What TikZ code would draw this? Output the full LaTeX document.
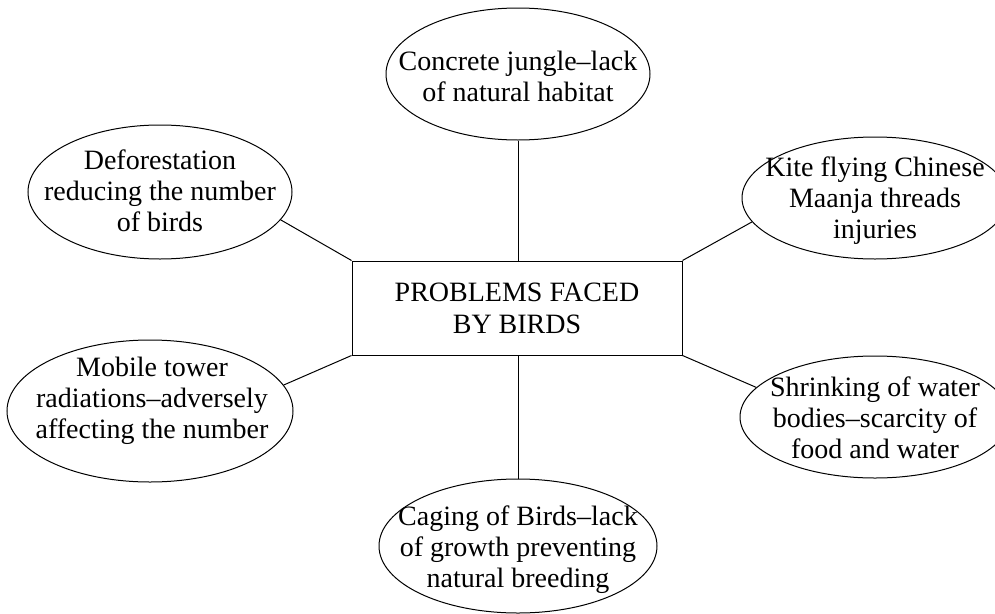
\documentclass[tikz,border=0pt]{standalone}
\usepackage{fontspec}
\setmainfont{Liberation Serif}
\usetikzlibrary{shapes.geometric}
\newcommand\bfs{\fontsize{28}{31}\selectfont}
\tikzset{
  bub/.style={draw, ellipse, line width=1pt, inner sep=0pt},
  txt/.style={inner sep=0pt, align=center, font=\bfs},
  hub/.style={draw, rectangle, line width=1pt, inner sep=0pt, align=center, font=\fontsize{28}{32}\selectfont},
  conn/.style={line width=1pt},
}
\begin{document}
\begin{tikzpicture}[x=1pt,y=-1pt]
\useasboundingbox (0,0) rectangle (995,613);
\node[hub, minimum width=330pt, minimum height=94pt] (c) at (517,308) {PROBLEMS FACED\\BY BIRDS};
\node[bub, minimum width=264pt, minimum height=132pt] (top) at (518,74) {};
\node[txt] (topt) at (518,76) {Concrete jungle–lack\\of natural habitat};
\node[bub, minimum width=264pt, minimum height=134pt] (ul) at (160,192) {};
\node[txt] (ult) at (160,191) {Deforestation\\reducing the number\\of birds};
\node[bub, minimum width=266pt, minimum height=122pt] (ur) at (875,198) {};
\node[txt] (urt) at (875,201) {Kite flying Chinese\\Maanja threads\\injuries};
\node[bub, minimum width=286pt, minimum height=142pt] (ll) at (150,411) {};
\node[txt] (llt) at (152,401) {Mobile tower\\radiations–adversely\\affecting the number};
\node[bub, minimum width=270pt, minimum height=122pt] (lr) at (875,417) {};
\node[txt] (lrt) at (875,418) {Shrinking of water\\bodies–scarcity of\\food and water};
\node[bub, minimum width=278pt, minimum height=134pt] (bot) at (518,546) {};
\node[txt] (bott) at (518,550) {Caging of Birds–lack\\of growth preventing\\natural breeding};
\draw[conn] (top.south) -- (top.south |- c.north);
\draw[conn] (bot.north) -- (bot.north |- c.south);
\draw[conn] (ul.-13) -- (c.north west);
\draw[conn] (ur.191) -- (c.north east);
\draw[conn] (ll.11) -- (c.south west);
\draw[conn] (lr.166) -- (c.south east);
\end{tikzpicture}
\end{document}
